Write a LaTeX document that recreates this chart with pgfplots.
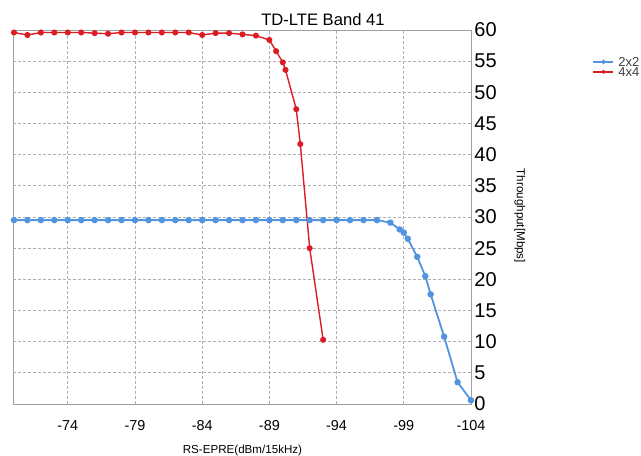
\documentclass[border=0pt]{standalone}
\usepackage{pgfplots}
\pgfplotsset{compat=1.18}
\usepackage{fontspec}
\setmainfont{Liberation Sans}
\definecolor{redS}{RGB}{220,28,36}
\definecolor{blueS}{RGB}{82,148,224}
\definecolor{gridc}{RGB}{175,175,175}
\definecolor{framec}{RGB}{160,160,160}
\begin{document}
\begin{tikzpicture}
\useasboundingbox (0,0) rectangle (320.5pt,227.5pt);
\begin{axis}[
  at={(7pt,25.5pt)}, anchor=south west,
  scale only axis, width=228.5pt, height=187pt,
  x dir=reverse,
  xmin=-104, xmax=-70, ymin=0, ymax=60,
  xtick={-74,-79,-84,-89,-94,-99,-104},
  ytick={0,5,...,60},
  /pgf/number format/assume math mode=true,
  major tick length=0pt,
  axis line style={framec, line width=0.5pt},
  grid=major,
  major grid style={gridc, dash pattern=on 1.5pt off 1pt, line width=0.4pt},
  yticklabel pos=right,
  yticklabel style={anchor=west, inner sep=0pt, xshift=1.5pt, font=\fontsize{10}{10}\selectfont},
  xticklabel style={anchor=north, inner sep=0pt, yshift=-8pt, font=\fontsize{7.2}{7.2}\selectfont},
  xlabel={RS-EPRE(dBm/15kHz)},
  xlabel style={at={(axis description cs:0.5,0)}, anchor=center, yshift=-23pt, inner sep=0pt, font=\fontsize{5.8}{5.8}\selectfont},
  ylabel={Throughput[Mbps]},
  ylabel style={at={(axis description cs:1.107,0.503)}, anchor=center, rotate=180, inner sep=0pt, font=\fontsize{5.8}{5.8}\selectfont},
  title={TD-LTE Band 41},
  title style={at={(axis description cs:0.676,0.995)}, anchor=center, inner sep=0pt, font=\fontsize{8.3}{8.3}\selectfont},
  legend cell align=left,
  legend style={at={(1.252,0.94)}, anchor=north west, draw=none, fill=none,
    font=\fontsize{6.5}{6.5}\selectfont, column sep=2pt,
    nodes={inner sep=0pt, text height=4.6pt, text depth=0.4pt, text=black!75}},
  legend image code/.code={\draw[#1, mark size=0.6pt, mark repeat=2, mark phase=2] plot coordinates {(0pt,0pt) (5pt,0pt) (10pt,0pt)};},
]
\addplot[blueS, line width=0.9pt, mark=*, mark size=1.15pt, mark options={fill=blueS, draw=blueS}] coordinates {
(-70,29.5) (-71,29.5) (-72,29.5) (-73,29.5) (-74,29.5) (-75,29.5) (-76,29.5)
(-77,29.5) (-78,29.5) (-79,29.5) (-80,29.5) (-81,29.5) (-82,29.5) (-83,29.5)
(-84,29.5) (-85,29.5) (-86,29.5) (-87,29.5) (-88,29.5) (-89,29.5) (-90,29.5)
(-91,29.5) (-92,29.5) (-93,29.5) (-94,29.5) (-95,29.5) (-96,29.5) (-97,29.5)
(-98,29.1) (-98.7,28.0) (-99,27.5) (-99.3,26.5) (-100,23.6) (-100.6,20.5)
(-101,17.6) (-102,10.8) (-103,3.5) (-104,0.6)
};
\addlegendentry{2x2}
\addplot[redS, line width=0.7pt, mark=*, mark size=1.15pt, mark options={fill=redS, draw=redS}] coordinates {
(-70,59.6) (-71,59.2) (-72,59.6) (-73,59.6) (-74,59.6) (-75,59.6) (-76,59.5)
(-77,59.4) (-78,59.6) (-79,59.6) (-80,59.6) (-81,59.6) (-82,59.6) (-83,59.6)
(-84,59.2) (-85,59.5) (-86,59.5) (-87,59.3) (-88,59.1) (-89,58.4) (-89.5,56.6)
(-90,54.8) (-90.2,53.6) (-91,47.3) (-91.3,41.7) (-92,25.0) (-93,10.3)
};
\addlegendentry{4x4}
\end{axis}
\end{tikzpicture}
\end{document}
